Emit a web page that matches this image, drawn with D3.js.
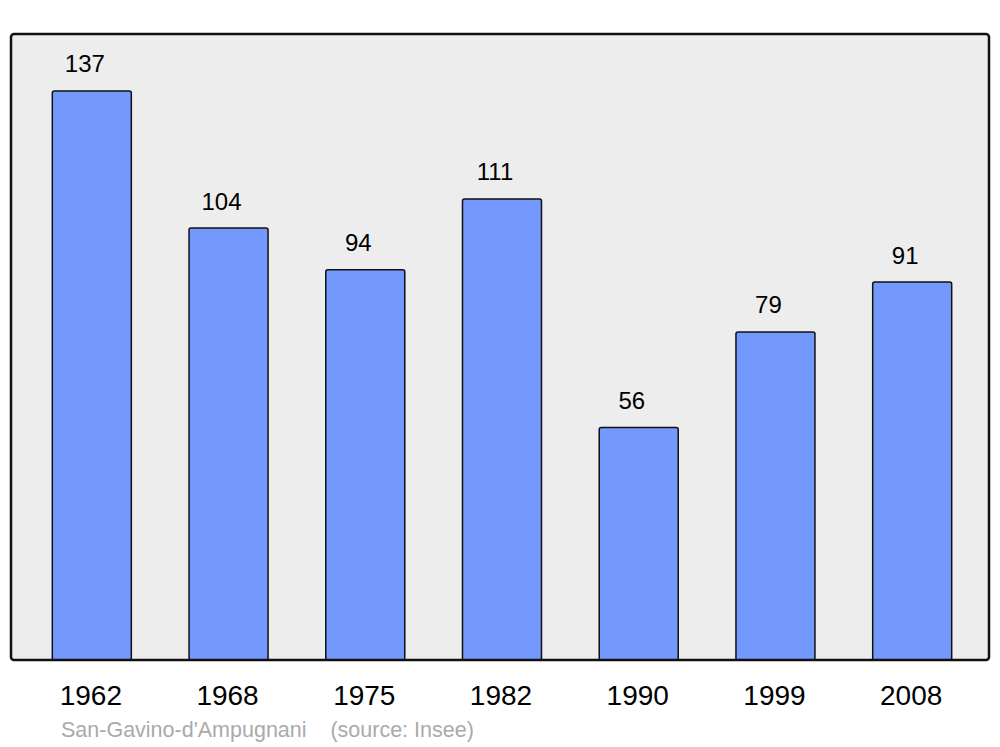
<!DOCTYPE html>
<html>
<head>
<meta charset="utf-8">
<script src="https://cdn.jsdelivr.net/npm/d3@7"></script>
<style>
html,body{margin:0;padding:0;background:#fff;}
svg{display:block;font-family:"Liberation Sans",Arial,sans-serif;}
</style>
</head>
<body>
<svg id="chart" width="1000" height="747"></svg>
<script>
const years = ["1962","1968","1975","1982","1990","1999","2008"];
const population = [137,104,94,111,56,79,91];
const footnote = "San-Gavino-d'Ampugnani    (source: Insee)";

const svg = d3.select("#chart");
const panel = {x0: 11, y0: 34, x1: 989, y1: 660};

const x = d3.scaleBand().domain(years).range([11.3, 992.7]).paddingInner(0.4222).paddingOuter(0.3);
const y = d3.scaleLinear().domain([0, d3.max(population) * 1.1]).range([660.3, 34]);

svg.append("rect")
  .attr("x", panel.x0).attr("y", panel.y0)
  .attr("width", panel.x1 - panel.x0).attr("height", panel.y1 - panel.y0)
  .attr("rx", 3).attr("ry", 3)
  .attr("fill", "#ededed");

const data = years.map((yr, i) => ({yr, v: population[i]}));

svg.selectAll("rect.bar").data(data).enter().append("rect")
  .attr("class", "bar")
  .attr("x", d => x(d.yr))
  .attr("y", d => y(d.v))
  .attr("width", x.bandwidth())
  .attr("height", d => y(0) - y(d.v))
  .attr("rx", 2).attr("ry", 2)
  .attr("fill", "#7399ff").attr("stroke", "#111").attr("stroke-width", 1.5);

svg.append("rect")
  .attr("x", panel.x0).attr("y", panel.y0)
  .attr("width", panel.x1 - panel.x0).attr("height", panel.y1 - panel.y0)
  .attr("rx", 3).attr("ry", 3)
  .attr("fill", "none").attr("stroke", "#111").attr("stroke-width", 2.5);

svg.selectAll("text.val").data(data).enter().append("text")
  .attr("class", "val")
  .attr("x", d => x(d.yr) + x.bandwidth() / 2 - 7)
  .attr("y", d => y(d.v) - 18.5)
  .attr("text-anchor", "middle")
  .attr("font-size", 24)
  .attr("fill", "#000")
  .text(d => d.v);

const xAxis = d3.axisBottom(x).tickSize(0).tickPadding(0);
const gx = svg.append("g").attr("transform", "translate(0,685)").call(xAxis);
gx.select(".domain").remove();
gx.selectAll("text")
  .attr("font-size", 28)
  .attr("font-family", "'Liberation Sans',Arial,sans-serif")
  .attr("fill", "#000")
  .attr("dx", "-1")
  .attr("dy", "0.715em");

svg.append("text")
  .attr("x", 61).attr("y", 737)
  .attr("font-size", 21.5)
  .attr("fill", "#aaaaaa")
  .attr("xml:space", "preserve")
  .style("white-space", "pre")
  .text(footnote);
</script>
</body>
</html>
